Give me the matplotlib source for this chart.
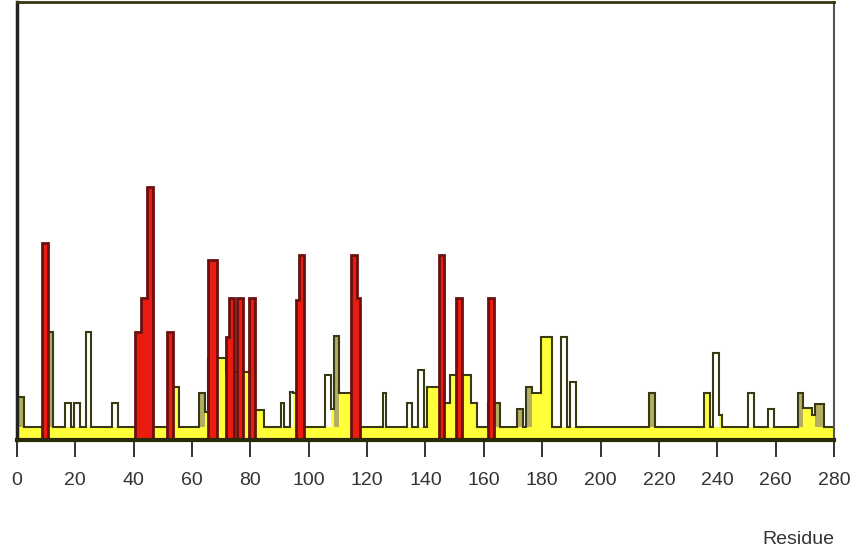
import numpy as np
import matplotlib.pyplot as plt

plt.rcParams['font.family'] = ['Liberation Sans Narrow', 'Liberation Sans', 'DejaVu Sans']

###
### DATA (heights in % of the plot height, residues inclusive)
###

n_res = 280
base_level = 3.0

# peaks filled in yellow
yel_start = [53, 65, 66, 72, 82, 95, 108, 111, 141, 147, 149, 156, 177, 180, 236, 241, 270, 273]
yel_end = [55, 65, 71, 81, 84, 97, 108, 117, 146, 148, 155, 157, 179, 183, 237, 241, 272, 273]
yel_height = [12.1, 6.4, 18.7, 15.5, 6.8, 10.7, 7.1, 10.7, 12.1, 8.4, 14.8, 8.4, 10.7, 23.5, 10.7, 5.7, 7.3, 5.7]

# peaks filled in khaki
kh_start = [1, 11, 63, 109, 162, 172, 175, 217, 268, 274]
kh_end = [2, 12, 64, 110, 165, 173, 176, 218, 269, 276]
kh_height = [9.8, 24.7, 10.7, 23.7, 8.4, 7.1, 12.1, 10.7, 10.7, 8.2]

# peaks drawn as outline only
op_start = [17, 20, 24, 33, 91, 94, 106, 126, 134, 138, 187, 190, 239, 251, 258]
op_end = [18, 21, 25, 34, 91, 94, 107, 126, 135, 139, 188, 191, 240, 252, 259]
op_height = [8.4, 8.4, 24.7, 8.4, 8.4, 11.0, 14.8, 10.7, 8.4, 16.0, 23.5, 13.2, 19.9, 10.7, 7.1]

# red bars
red_start = [9, 41, 43, 45, 52, 66, 72, 73, 76, 80, 96, 97, 115, 117, 145, 151, 162]
red_end = [10, 42, 44, 46, 53, 68, 72, 74, 77, 81, 96, 98, 116, 117, 146, 152, 163]
red_height = [45.0, 24.7, 32.4, 57.8, 24.7, 41.1, 23.5, 32.4, 32.4, 32.4, 32.0, 42.2, 42.2, 32.4, 42.2, 32.4, 32.4]

xticks = list(range(0, 281, 20))


# turn the peak lists into one value per residue
def profile(starts, ends, heights, fill):
    arr = np.full(n_res + 1, fill)
    for s, e, h in zip(starts, ends, heights):
        arr[s:e + 1] = h
    return arr


edges = np.arange(-0.5, n_res + 1.5, 1)
yellow = profile(yel_start, yel_end, yel_height, base_level)
khaki = profile(kh_start, kh_end, kh_height, base_level)
opened = profile(op_start, op_end, op_height, base_level)
outline = np.maximum(np.maximum(yellow, khaki), opened)
red = profile(red_start, red_end, red_height, 0.0)

###
### FIGURE
###

fig = plt.figure(figsize=(8.54, 5.49), dpi=100)
ax = fig.add_axes([17 / 854, 1 - 440 / 549, 817 / 854, 438 / 549])

ax.stairs(yellow, edges, baseline=0, fill=True, color='#ffff3a', lw=0, zorder=1)
ax.stairs(khaki, edges, baseline=base_level, fill=True, color='#b3ae62', lw=0, zorder=1.1)
ax.stairs(outline, edges, baseline=None, color='#3a3a12', lw=1.5, zorder=1.2)
ax.stairs(red, edges, baseline=0, fill=True, facecolor='#ea1c10', edgecolor='#6a1010', lw=2.0, zorder=1.3)

ax.set_xlim(0, 280)
ax.set_ylim(0, 100)
ax.set_yticks([])
ax.set_xticks(xticks)

ax.spines['bottom'].set_linewidth(3)
ax.spines['bottom'].set_color('#2a2a08')
ax.spines['left'].set_linewidth(2.5)
ax.spines['left'].set_color('#222222')
ax.spines['top'].set_linewidth(2)
ax.spines['top'].set_color('#35350f')
ax.spines['right'].set_linewidth(1.5)
ax.spines['right'].set_color('#555555')

ax.tick_params(axis='x', direction='out', length=12, width=1.3, color='#222222',
               pad=11, labelsize=14, labelcolor='#333333')
ax.set_xlabel('Residue', loc='right', labelpad=30, fontsize=14, color='#333333')

plt.savefig('out.png', dpi=100)
